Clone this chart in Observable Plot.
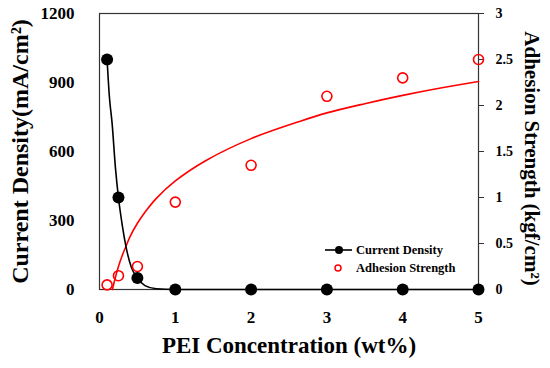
<!DOCTYPE html>
<html>
<head>
<meta charset="utf-8">
<script src="https://cdn.jsdelivr.net/npm/d3@7"></script>
<script src="https://cdn.jsdelivr.net/npm/@observablehq/plot@0.6"></script>
<style>
  html, body { margin: 0; padding: 0; background: #fff; }
  #chart svg { display: block; }
</style>
</head>
<body>
<div id="chart"></div>
<script>
// ---- data ----
const concentration = [0.1, 0.25, 0.5, 1, 2, 3, 4, 5];
const currentDensity = [1000, 400, 50, 0, 0, 0, 0, 0];
const adhesionStrength = [0.05, 0.15, 0.25, 0.95, 1.35, 2.1, 2.3, 2.5];

// fitted curves, points
const currentFitX = [0.1, 0.13, 0.167, 0.21, 0.25, 0.3, 0.35, 0.42, 0.5, 0.6, 0.75, 1, 2, 3, 4, 5];
const currentFitY = [1000, 840, 720, 530, 400, 280, 185, 97, 50, 17, 3, 0, 0, 0, 0, 0];
const adhesionFitX = [0.17, 0.2, 0.25, 0.3, 0.35, 0.4, 0.5, 0.6, 0.75, 1, 1.4, 2, 2.65, 3, 3.5, 4, 4.5, 5];
const adhesionFitY = [0, 0.1, 0.25, 0.37, 0.47, 0.57, 0.72, 0.84, 0.99, 1.18, 1.4, 1.64, 1.83, 1.92, 2.02, 2.11, 2.19, 2.26];

const xTicks = [0, 1, 2, 3, 4, 5];
const leftTicks = [0, 300, 600, 900, 1200];
const rightTicks = [0, 0.5, 1, 1.5, 2, 2.5, 3];

const leftMax = 1200, rightMax = 3;
const k = leftMax / rightMax; // map right axis onto left scale

const points = concentration.map((c, i) => ({x: c, cd: currentDensity[i], ad: adhesionStrength[i] * k}));
const curFit = currentFitX.map((x, i) => ({x, y: currentFitY[i]}));
const adFit = adhesionFitX.map((x, i) => ({x, y: adhesionFitY[i] * k}));

const font = "'Palatino Linotype', 'Book Antiqua', Palatino, 'Liberation Serif', serif";

const svg = Plot.plot({
  width: 550,
  height: 368,
  marginLeft: 99,
  marginRight: 72,
  marginTop: 13,
  marginBottom: 79,
  style: {fontFamily: font, fontWeight: "bold", fontSize: "16px", color: "#000", background: "#fff"},
  x: {domain: [0, 5]},
  y: {domain: [0, leftMax]},
  marks: [
    Plot.frame({stroke: "#333", strokeWidth: 1.2}),
    Plot.axisX({ticks: xTicks, tickSize: 0, tickPadding: 21, tickFormat: d => String(d), label: null, fontSize: 17}),
    Plot.axisY({ticks: leftTicks, tickSize: 0, tickPadding: 25, tickFormat: d => String(d), label: null, fontSize: 17}),
    Plot.axisY({anchor: "right", ticks: rightTicks.map(v => v * k), tickSize: 5, tickPadding: 12,
      tickFormat: d => String(d / k), label: null, fontSize: 14, stroke: "#333"}),
    Plot.line(adFit, {x: "x", y: "y", stroke: "#ff0000", strokeWidth: 1.6, curve: "catmull-rom"}),
    Plot.line(curFit, {x: "x", y: "y", stroke: "#000", strokeWidth: 1.6, curve: "monotone-x"}),
    Plot.dot(points, {x: "x", y: "ad", r: 5, stroke: "#ff0000", strokeWidth: 1.6, fill: "none"}),
    Plot.dot(points, {x: "x", y: "cd", r: 6, fill: "#000", stroke: "none"}),
    Plot.text(["Current Density(mA/cm²)"], {frameAnchor: "left", textAnchor: "middle", dx: -79, rotate: -90, fontSize: 24, fontWeight: "bold", fill: "#000"}),
    Plot.text(["Adhesion Strength (kgf/cm²)"], {frameAnchor: "right", textAnchor: "middle", dx: 53, dy: 7, rotate: 90, fontSize: 21, fontWeight: "bold", fill: "#000"}),
    Plot.text(["PEI Concentration (wt%)"], {frameAnchor: "bottom", textAnchor: "middle", dy: 63, fontSize: 23, fontWeight: "bold", fill: "#000"})
  ]
});

// legend
const lg = d3.select(svg).append("g").attr("font-family", font).attr("font-weight", "bold")
  .attr("font-size", 12.5).attr("text-anchor", "start");
lg.append("line").attr("x1", 325).attr("x2", 352).attr("y1", 250).attr("y2", 250).attr("stroke", "#000").attr("stroke-width", 1.6);
lg.append("circle").attr("cx", 339).attr("cy", 250).attr("r", 4).attr("fill", "#000");
lg.append("text").attr("x", 356).attr("y", 250).attr("dy", "0.35em").attr("text-anchor", "start").text("Current Density");
lg.append("circle").attr("cx", 338).attr("cy", 268).attr("r", 3).attr("fill", "none").attr("stroke", "#ff0000").attr("stroke-width", 1.5);
lg.append("text").attr("x", 356).attr("y", 268).attr("dy", "0.35em").attr("text-anchor", "start").text("Adhesion Strength");

document.getElementById("chart").appendChild(svg);
</script>
</body>
</html>
